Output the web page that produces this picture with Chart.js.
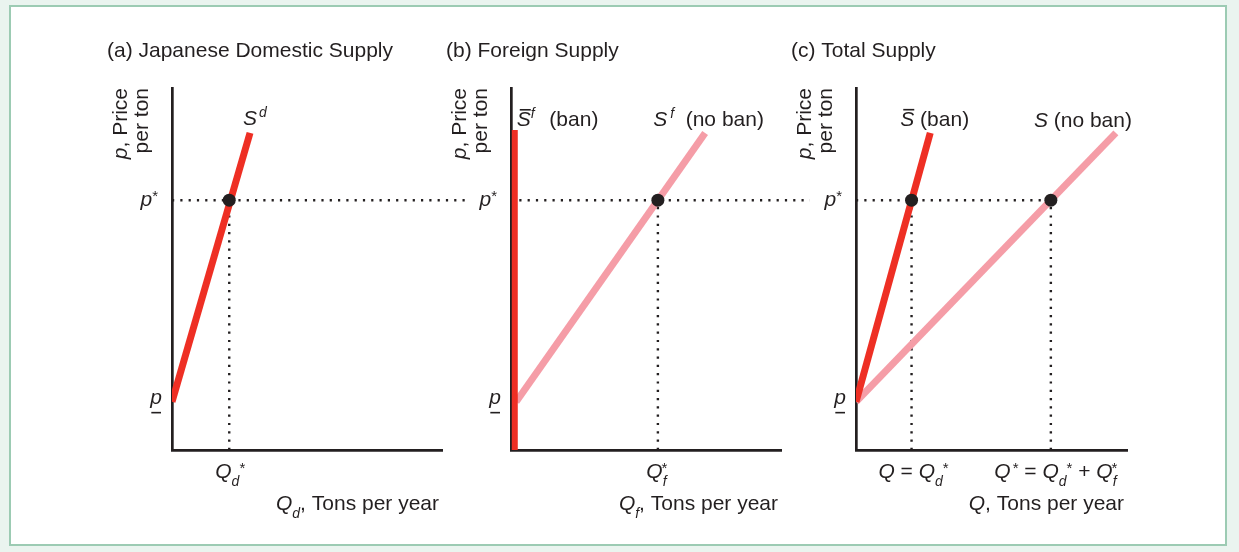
<!DOCTYPE html>
<html>
<head>
<meta charset="utf-8">
<script src="https://cdn.jsdelivr.net/npm/chart.js@4.4.1/dist/chart.umd.min.js"></script>
<style>
  html, body { margin: 0; padding: 0; }
  body { width: 1239px; height: 552px; background: #eaf4ef; position: relative; overflow: hidden; }
  .frame { position: absolute; left: 9px; top: 5px; width: 1214px; height: 537px; background: #fff; border: 2px solid #9ccbb3; }
  canvas { position: absolute; top: 20px; }
</style>
</head>
<body>
<div class="frame"></div>
<canvas id="panelA" width="380" height="510" style="left:100px"></canvas>
<canvas id="panelB" width="380" height="510" style="left:440px"></canvas>
<canvas id="panelC" width="400" height="510" style="left:785px"></canvas>
<script>
// price axis and quantity axis both run 0..100 (arbitrary units)
const pFloor = 13.3;
const pStar = 69;

// (a) Japanese domestic supply
const domesticQ = [0, 28.9];
const domesticP = [13.3, 87.6];
const qdStar = 21.2;

// (b) foreign supply
const banQ = [1.4, 1.4];
const banP = [0, 88.4];
const foreignQ = [1.9, 71.9];
const foreignP = [13.3, 87.6];
const qfStar = 54.4;

// (c) total supply
const totalBanQ = [0, 27.4];
const totalBanP = [13.3, 87.6];
const totalQ = [0, 95.9];
const totalP = [13.3, 87.6];
const qBanStar = 20.5;
const qTotalStar = 71.9;

// how far the dotted p* line runs in each panel
const guideEnd = [110, 110.7, qTotalStar];

const INK = '#231f20', RED = '#ee2f24', PINK = '#f59da7';
const FONT = '"Liberation Sans", Arial, Helvetica, sans-serif';

function pts(q, p) { return q.map((x, i) => ({ x: x, y: p[i] })); }

function supplyLine(q, p, color, w) {
    return { data: pts(q, p), showLine: true, borderColor: color, borderWidth: w || 7,
             borderCapStyle: 'butt', pointRadius: 0, clip: 0 };
}
function guide(q, p) {
    return { data: pts(q, p), showLine: true, borderColor: INK, borderWidth: 2.4,
             borderDash: [2.2, 6.1], pointRadius: 0, clip: false };
}
function dots(q, p) {
    return { data: pts(q, p), showLine: false, pointRadius: 6.5,
             pointBackgroundColor: INK, pointBorderWidth: 0, clip: false };
}

function fontOf(p) {
    return (p.i ? 'italic ' : '') + (p.s || 21) + 'px ' + FONT;
}

// draws a run of text parts (italic, sub/superscript, underline, overbar)
function rich(ctx, parts, x, y, align) {
    let total = 0;
    parts.forEach(p => {
        ctx.font = fontOf(p);
        p.w = ctx.measureText(p.t).width;
        total += (p.dx || 0) + p.w;
    });
    let cx = align === 'right' ? x - total : align === 'center' ? x - total / 2 : x;
    parts.forEach(p => {
        cx += p.dx || 0;
        ctx.font = fontOf(p);
        ctx.fillText(p.t, cx, y + (p.dy || 0));
        if (p.ul) ctx.fillRect(cx + 1, y + p.ul, p.w - 2, 1.6);
        if (p.bar) ctx.fillRect(cx + 3, y - 17.5, p.w - 3, 1.6);
        cx += p.w;
    });
}

function axisNotes(chart, title, qTitle) {
    const ctx = chart.ctx, a = chart.chartArea, y = chart.scales.y;
    ctx.fillStyle = INK;
    ctx.textAlign = 'left';
    ctx.textBaseline = 'alphabetic';
    rich(ctx, [{ t: title }], a.left - 65, 36.5, 'left');

    ctx.save();
    ctx.translate(a.left - 45.5, a.top);
    ctx.rotate(-Math.PI / 2);
    rich(ctx, [{ t: 'p', i: 1 }, { t: ', Price' }], 0, 0, 'right');
    ctx.restore();
    ctx.save();
    ctx.translate(a.left - 24, a.top);
    ctx.rotate(-Math.PI / 2);
    rich(ctx, [{ t: 'per ton' }], 0, 0, 'right');
    ctx.restore();

    rich(ctx, [{ t: 'p', i: 1 }, { t: '*', s: 15, dy: -5 }], a.left - 14, y.getPixelForValue(pStar) + 6, 'right');
    rich(ctx, [{ t: 'p', i: 1, ul: 8 }], a.left - 10, y.getPixelForValue(pFloor) + 2, 'right');
    rich(ctx, qTitle, a.right - 3, a.bottom + 60, 'right');
}

function topOf(chart, q, p) {
    return { x: chart.scales.x.getPixelForValue(q[q.length - 1]),
             y: chart.scales.y.getPixelForValue(p[p.length - 1]) };
}

function makePanel(id, datasets, pad, notes) {
    return new Chart(document.getElementById(id), {
        type: 'scatter',
        data: { datasets: datasets },
        options: {
            responsive: false,
            devicePixelRatio: 1,
            animation: false,
            layout: { padding: pad },
            plugins: { legend: { display: false }, tooltip: { enabled: false } },
            scales: {
                x: { type: 'linear', position: 'bottom', min: 0, max: 100,
                     grid: { display: false, drawTicks: false }, ticks: { display: false },
                     border: { display: true, color: INK, width: 2.7 } },
                y: { type: 'linear', position: 'left', min: 0, max: 100,
                     grid: { display: false, drawTicks: false }, ticks: { display: false },
                     border: { display: true, color: INK, width: 2.7 } },
            },
        },
        plugins: [{ id: 'notes_' + id, afterDraw: notes }],
    });
}

makePanel('panelA', [
    dots([qdStar], [pStar]),
    supplyLine(domesticQ, domesticP, RED),
    guide([0, guideEnd[0]], [pStar, pStar]),
    guide([qdStar, qdStar], [0, pStar]),
], { left: 72, top: 68, right: 38, bottom: 80 }, chart => {
    const ctx = chart.ctx, a = chart.chartArea, x = chart.scales.x;
    ctx.save();
    axisNotes(chart, '(a) Japanese Domestic Supply',
        [{ t: 'Q', i: 1 }, { t: 'd', i: 1, s: 14, dy: 8 }, { t: ', Tons per year' }]);
    const top = topOf(chart, domesticQ, domesticP);
    rich(ctx, [{ t: 'S', i: 1 }, { t: 'd', i: 1, s: 14, dy: -8.5, dx: 2 }], top.x - 7, top.y - 7.5, 'left');
    rich(ctx, [{ t: 'Q', i: 1 }, { t: 'd', i: 1, s: 14, dy: 8 }, { t: '*', s: 15, dy: -5 }],
        x.getPixelForValue(qdStar) + 1, a.bottom + 27.5, 'center');
    ctx.restore();
});

makePanel('panelB', [
    dots([qfStar], [pStar]),
    supplyLine(banQ, banP, RED, 6),
    supplyLine(foreignQ, foreignP, PINK),
    guide([0, guideEnd[1]], [pStar, pStar]),
    guide([qfStar, qfStar], [0, pStar]),
], { left: 71, top: 68, right: 39, bottom: 80 }, chart => {
    const ctx = chart.ctx, a = chart.chartArea, x = chart.scales.x;
    ctx.save();
    axisNotes(chart, '(b) Foreign Supply',
        [{ t: 'Q', i: 1 }, { t: 'f', i: 1, s: 14, dy: 8 }, { t: ', Tons per year' }]);
    const ban = topOf(chart, banQ, banP);
    rich(ctx, [{ t: 'S', i: 1, bar: 1 }, { t: 'f', i: 1, s: 14, dy: -8.5 }, { t: '  (ban)', dx: 3 }],
        ban.x + 2, ban.y - 3.5, 'left');
    const top = topOf(chart, foreignQ, foreignP);
    rich(ctx, [{ t: 'S', i: 1 }, { t: 'f', i: 1, s: 14, dy: -8.5, dx: 3 }, { t: '  (no ban)' }],
        top.x - 52, top.y - 6.5, 'left');
    rich(ctx, [{ t: 'Q', i: 1 }, { t: 'f', i: 1, s: 14, dy: 8 }, { t: '*', s: 15, dy: -5, dx: -5 }],
        x.getPixelForValue(qfStar) - 1, a.bottom + 27.5, 'center');
    ctx.restore();
});

makePanel('panelC', [
    dots([qBanStar, qTotalStar], [pStar, pStar]),
    supplyLine(totalBanQ, totalBanP, RED),
    supplyLine(totalQ, totalP, PINK),
    guide([0, guideEnd[2]], [pStar, pStar]),
    guide([qBanStar, qBanStar], [0, pStar]),
    guide([qTotalStar, qTotalStar], [0, pStar]),
], { left: 71, top: 68, right: 58, bottom: 80 }, chart => {
    const ctx = chart.ctx, a = chart.chartArea, x = chart.scales.x;
    ctx.save();
    axisNotes(chart, '(c) Total Supply', [{ t: 'Q', i: 1 }, { t: ', Tons per year' }]);
    const ban = topOf(chart, totalBanQ, totalBanP);
    rich(ctx, [{ t: 'S', i: 1, bar: 1 }, { t: ' (ban)' }], ban.x - 30, ban.y - 6.5, 'left');
    const top = topOf(chart, totalQ, totalP);
    rich(ctx, [{ t: 'S', i: 1 }, { t: ' (no ban)' }], top.x - 82, top.y - 5.5, 'left');
    rich(ctx, [{ t: 'Q', i: 1 }, { t: ' = ' }, { t: 'Q', i: 1 }, { t: 'd', i: 1, s: 14, dy: 8 },
               { t: '*', s: 15, dy: -5 }],
        x.getPixelForValue(qBanStar) + 2, a.bottom + 27.5, 'center');
    rich(ctx, [{ t: 'Q', i: 1 }, { t: '*', s: 15, dy: -5, dx: 2 }, { t: ' = ' }, { t: 'Q', i: 1 },
               { t: 'd', i: 1, s: 14, dy: 8 }, { t: '*', s: 15, dy: -5 }, { t: ' + ' },
               { t: 'Q', i: 1 }, { t: 'f', i: 1, s: 14, dy: 8 }, { t: '*', s: 15, dy: -5, dx: -5 }],
        x.getPixelForValue(qTotalStar) + 5, a.bottom + 27.5, 'center');
    ctx.restore();
});
</script>
</body>
</html>
